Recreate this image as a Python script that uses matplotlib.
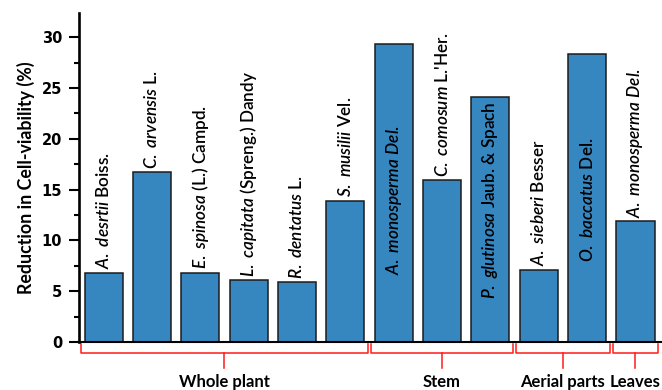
import numpy as np
import matplotlib
matplotlib.use("Agg")
import matplotlib.pyplot as plt

plt.rcParams['mathtext.fontset'] = 'custom'
plt.rcParams['mathtext.it'] = 'Lato:italic:semibold'
plt.rcParams['mathtext.rm'] = 'Lato:semibold'

# species (italic part) + authority (roman part)
species = ["A. desrtii", "C. arvensis", "E. spinosa", "L. capitata", "R. dentatus",
           "S. musilii", "A. monosperma Del.", "C. comosum", "P. glutinosa",
           "A. sieberi", "O. baccatus", "A. monosperma Del."]
authors = ["Boiss.", "L.", "(L.) Campd.", "(Spreng.) Dandy", "L.",
           "Vel.", "", "L.'Her.", "Jaub. & Spach",
           "Besser", "Del.", ""]
values = [6.8, 16.7, 6.8, 6.1, 5.9, 13.9, 29.3, 15.9, 24.1, 7.1, 28.4, 11.9]
inside = [False, False, False, False, False, False, True, False, True, False, True, False]

groups = ["Whole plant", "Stem", "Aerial parts", "Leaves"]
group_sizes = [6, 3, 2, 1]

bar_color = "#3686c0"

fig = plt.figure(figsize=(6.62, 3.9), dpi=100)
ax = fig.add_axes([0.12, 0.123, 0.88, 0.844])

x = np.arange(len(values))
ax.bar(x, values, width=0.79, color=bar_color, edgecolor="#1c1c1c", linewidth=1.1, zorder=2)

for i in range(len(values)):
    sp_tex = r"$\it{" + species[i].replace(" ", r"\ ") + "}$"
    lab = sp_tex + (" " + authors[i] if authors[i] else "")
    if inside[i]:
        ax.text(x[i], 14.0, lab, rotation=90, ha="center", va="center",
                fontsize=12.3, family="Lato", fontweight="semibold", color="black", zorder=3)
    else:
        ax.text(x[i], values[i] + 0.35, lab, rotation=90, ha="center", va="bottom",
                fontsize=12.3, family="Lato", fontweight="semibold", color="black", zorder=3)

ax.set_xlim(-0.5, 11.55)
ax.set_ylim(0, 32.4)
ax.set_xticks([])
ax.set_yticks(np.arange(0, 31, 5))
ax.set_yticks(np.arange(2.5, 31, 5), minor=True)
ax.tick_params(axis="y", which="major", length=7, width=1.5, pad=5.5, direction="out")
ax.tick_params(axis="y", which="minor", length=3.5, width=1.5, direction="out")
for t in ax.get_yticklabels():
    t.set_fontfamily("DejaVu Sans")
    t.set_fontweight("bold")
    t.set_fontsize(10.5)

ax.spines["top"].set_visible(False)
ax.spines["right"].set_visible(False)
ax.spines["left"].set_linewidth(1.9)
ax.spines["bottom"].set_linewidth(1.5)

ax.set_ylabel("Reduction in Cell-viability (%)", fontsize=12.8, fontweight="bold",
              family="Lato", labelpad=5)

# group brackets
start = 0
for g, n in zip(groups, group_sizes):
    x0 = start - 0.47
    x1 = start + n - 1 + 0.47
    xm = (x0 + x1) / 2
    ax.plot([x0, x0, x1, x1], [-0.2, -1.1, -1.1, -0.2], color="#ff1a1a", lw=1.1, clip_on=False)
    ax.plot([xm, xm], [-1.1, -2.55], color="#ff1a1a", lw=1.1, clip_on=False)
    ax.text(xm, -3.9, g, ha="center", va="center", fontsize=12, fontweight="bold", family="Lato")
    start += n

fig.savefig("out.png", dpi=100)
